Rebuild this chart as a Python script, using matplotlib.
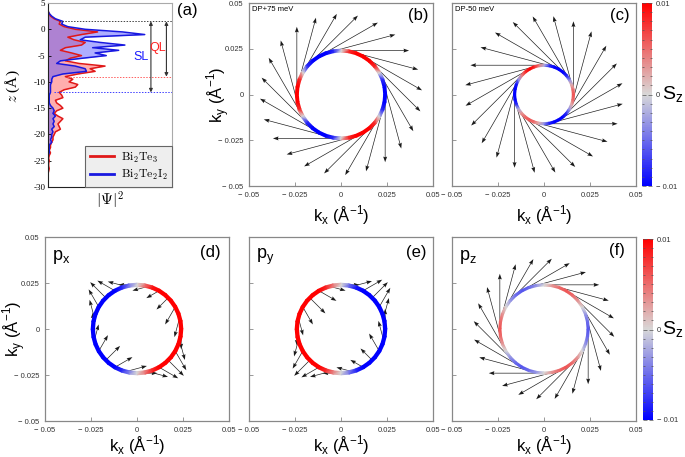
import numpy as np
import matplotlib
matplotlib.use('Agg')
import matplotlib.pyplot as plt
from matplotlib.colors import LinearSegmentedColormap, Normalize
from matplotlib.tri import Triangulation
from matplotlib.cm import ScalarMappable
from matplotlib.ticker import MultipleLocator

plt.rcParams['font.family'] = ['Liberation Sans', 'DejaVu Sans']

# ---------------- panel (a): |Psi|^2 profile along z ----------------
z_grid = np.arange(4.0, -30.25, -0.5)
psi_bi2te3 = [0.0, 0.0, 0.01, 0.02, 0.05, 0.10, 0.09, 0.13, 0.22,
              0.40, 0.27, 0.16, 0.21, 0.30, 0.27, 0.14, 0.10, 0.19, 0.27,
              0.18, 0.14, 0.25, 0.46, 0.34, 0.38, 0.24, 0.14, 0.20, 0.17,
              0.24, 0.22, 0.13, 0.09, 0.11, 0.12, 0.06, 0.07, 0.10, 0.12,
              0.07, 0.05, 0.08, 0.12, 0.10, 0.08, 0.09, 0.10, 0.06, 0.05,
              0.04, 0.04, 0.03, 0.02, 0.02, 0.01, 0.02, 0.01, 0.005, 0.01,
              0.005, 0.005, 0.01, 0.005, 0.0, 0.0, 0.0, 0.0, 0.0, 0.0]
psi_bi2te2i2 = [0.0, 0.0, 0.01, 0.03, 0.06, 0.12, 0.11, 0.16, 0.30,
                0.60, 0.78, 0.30, 0.26, 0.42, 0.62, 0.36, 0.57, 0.38, 0.47,
                0.28, 0.10, 0.07, 0.22, 0.30, 0.31, 0.12, 0.04, 0.03, 0.03,
                0.02, 0.02, 0.02, 0.02, 0.01, 0.01, 0.01, 0.01, 0.02, 0.04,
                0.05, 0.04, 0.06, 0.04, 0.05, 0.04, 0.05, 0.03, 0.04, 0.03,
                0.03, 0.02, 0.03, 0.01, 0.01, 0.01, 0.01, 0.0, 0.0, 0.0,
                0.0, 0.0, 0.0, 0.0, 0.0, 0.0, 0.0, 0.0, 0.0, 0.0]
z_top, z_ql, z_sl = 1.5, -9.0, -12.0

# ---------------- panels (b)-(f): spin textures ----------------
sz_theta = np.arange(0, 360, 10)          # angle (deg) on Fermi contour
arrow_theta = np.arange(0, 360, 15)       # angle (deg) of arrow origins

kf_b, kf_c, kf_d, kf_e, kf_f = 0.024, 0.016, 0.024, 0.024, 0.024

sz_b = [-0.01, -0.01, -0.008, 0.0, 0.008, 0.01, 0.01, 0.01, 0.008, 0.0, -0.008, -0.01,
        -0.01, -0.01, -0.008, 0.0, 0.008, 0.01, 0.01, 0.01, 0.008, 0.0, -0.008, -0.01,
        -0.01, -0.01, -0.008, 0.0, 0.008, 0.01, 0.01, 0.01, 0.008, 0.0, -0.008, -0.01]
sz_c = [0.006, 0.005, 0.002, -0.003, -0.008, -0.011, -0.012, -0.011, -0.008, -0.002, 0.004, 0.008,
        0.010, 0.008, 0.004, -0.003, -0.009, -0.012, -0.013, -0.012, -0.008, -0.002, 0.003, 0.005,
        0.006, 0.005, 0.002, -0.003, -0.008, -0.011, -0.012, -0.011, -0.008, -0.003, 0.002, 0.005]
sz_d = [0.01, 0.01, 0.01, 0.01, 0.01, 0.01, 0.01, 0.009, 0.005, 0.0, -0.004, -0.008,
        -0.01, -0.01, -0.01, -0.01, -0.01, -0.01, -0.01, -0.01, -0.01, -0.01, -0.01, -0.01,
        -0.01, -0.008, -0.004, 0.0, 0.004, 0.008, 0.01, 0.01, 0.01, 0.01, 0.01, 0.01]
sz_e = [-0.01, -0.01, -0.01, -0.01, -0.01, -0.01, -0.01, -0.009, -0.005, 0.0, 0.004, 0.008,
        0.01, 0.01, 0.01, 0.01, 0.01, 0.01, 0.01, 0.01, 0.01, 0.01, 0.01, 0.01,
        0.01, 0.008, 0.004, 0.0, -0.004, -0.008, -0.01, -0.01, -0.01, -0.01, -0.01, -0.01]
sz_f = [-0.006, -0.005, -0.003, 0.0, 0.003, 0.005, 0.006, 0.005, 0.003, 0.0, -0.003, -0.005,
        -0.006, -0.005, -0.003, 0.0, 0.003, 0.005, 0.006, 0.005, 0.003, 0.0, -0.003, -0.005,
        -0.006, -0.005, -0.003, 0.0, 0.003, 0.005, 0.006, 0.005, 0.003, 0.0, -0.003, -0.005]

# in-plane spin direction (deg) and length at each arrow origin
phi_b = [-90, -75, -60, -45, -30, -15, 0, 15, 30, 45, 60, 75,
         90, 105, 120, 135, 150, 165, 180, 195, 210, 225, 240, 255]
phi_c = [90, 105, 120, 135, 150, 165, 180, 195, 210, 225, 240, 255,
         270, 285, 300, 315, 330, 345, 0, 15, 30, 45, 60, 75]
phi_d = [-90, -105, -120, -135, -150, -165, 180, 165, 150, 135, 120, 105,
         90, 75, 60, 45, 30, 15, 0, -15, -30, -45, -60, -75]
phi_e = [90, 75, 60, 45, 30, 15, 0, -15, -30, -45, -60, -75,
         -90, -105, -120, -135, -150, -165, 180, 165, 150, 135, 120, 105]
phi_f = phi_b
len_b = [0.037, 0.037, 0.037, 0.037, 0.037, 0.037, 0.037, 0.037, 0.037, 0.037, 0.037, 0.037,
         0.037, 0.037, 0.037, 0.037, 0.037, 0.037, 0.037, 0.037, 0.037, 0.037, 0.037, 0.037]
len_c = [0.040, 0.040, 0.040, 0.040, 0.040, 0.040, 0.040, 0.040, 0.040, 0.040, 0.040, 0.040,
         0.040, 0.040, 0.040, 0.040, 0.040, 0.040, 0.040, 0.040, 0.040, 0.040, 0.040, 0.040]
len_d = [0.011, 0.011, 0.011, 0.009, 0.008, 0.009, 0.010, 0.010, 0.011, 0.012, 0.011, 0.010,
         0.009, 0.009, 0.010, 0.011, 0.011, 0.012, 0.011, 0.011, 0.012, 0.012, 0.012, 0.011]
len_e = [0.011, 0.011, 0.012, 0.012, 0.012, 0.011, 0.010, 0.009, 0.011, 0.012, 0.011, 0.010,
         0.009, 0.009, 0.011, 0.012, 0.011, 0.011, 0.010, 0.009, 0.008, 0.009, 0.011, 0.011]
len_f = [0.030, 0.030, 0.030, 0.030, 0.030, 0.030, 0.030, 0.030, 0.030, 0.030, 0.030, 0.030,
         0.030, 0.030, 0.030, 0.030, 0.030, 0.030, 0.030, 0.030, 0.030, 0.030, 0.030, 0.030]

k_ticks = [-0.05, -0.025, 0, 0.025, 0.05]
k_tick_labels = ['\u2212 0.05', '\u2212 0.025', '0', '0.025', '0.05']

cmap = LinearSegmentedColormap.from_list('sz', ['#0000ff', '#d8d8d8', '#ff0000'])
norm = Normalize(-0.01, 0.01)

fig = plt.figure(figsize=(6.85, 4.57), dpi=100)
W, H = 685.0, 457.0


def box(x0, y0, w, h):
    return [x0 / W, 1 - (y0 + h) / H, w / W, h / H]


ax_a = fig.add_axes(box(48, 3, 124, 184))
ax_b = fig.add_axes(box(249, 3, 184, 183))
ax_c = fig.add_axes(box(452, 3, 184, 183))
cax1 = fig.add_axes(box(642, 3, 10, 183))
ax_d = fig.add_axes(box(45, 237, 184, 184))
ax_e = fig.add_axes(box(249, 237, 184, 184))
ax_f = fig.add_axes(box(452, 237, 184, 184))
cax2 = fig.add_axes(box(643, 239, 10, 181))

# ---- panel (a)
ax_a.fill_betweenx(z_grid, 0, psi_bi2te3, color='#ff4d4d', alpha=0.45, lw=0)
ax_a.fill_betweenx(z_grid, 0, psi_bi2te2i2, color='#4d4dff', alpha=0.45, lw=0)
l1, = ax_a.plot(psi_bi2te3, z_grid, color='#e01818', lw=1.1)
l2, = ax_a.plot(psi_bi2te2i2, z_grid, color='#1818e0', lw=1.1)
ax_a.plot([0.09, 1.0], [z_top, z_top], ls=(0, (1.5, 1.5)), color='#444', lw=0.7)
ax_a.plot([0.15, 1.0], [z_ql, z_ql], ls=(0, (1.5, 1.5)), color='#ff6060', lw=0.7)
ax_a.plot([0.05, 1.0], [z_sl, z_sl], ls=(0, (1.5, 1.5)), color='#4040ff', lw=0.7)
arr = dict(arrowstyle='<|-|>', color='#333', lw=0.8, mutation_scale=5, shrinkA=0, shrinkB=0)
ax_a.annotate('', xy=(0.83, z_sl), xytext=(0.83, z_top), arrowprops=arr)
ax_a.annotate('', xy=(0.955, z_ql), xytext=(0.955, z_top), arrowprops=arr)
ax_a.text(0.75, -5.2, 'SL', color='#1a1aff', fontsize=9, ha='center', va='center')
ax_a.text(0.885, -3.6, 'QL', color='#ff2020', fontsize=9, ha='center', va='center')
ax_a.set_xlim(0, 1)
ax_a.set_ylim(-30, 5)
ax_a.set_yticks([5, 0, -5, -10, -15, -20, -25, -30])
ax_a.set_yticklabels(['5', '0', '-5', '-10', '-15', '-20', '-25', '-30'],
                     family='Liberation Serif', fontsize=6.5)
ax_a.set_xticks([])
ax_a.tick_params(axis='y', direction='in', length=2, width=0.6, pad=2)
for s in ['top', 'right']:
    ax_a.spines[s].set_color('#aaa')
for s in ['left', 'bottom']:
    ax_a.spines[s].set_color('#222')
ax_a.set_xlabel(r'$|\Psi|^2$', fontsize=11, labelpad=2, math_fontfamily='cm')
ax_a.set_ylabel(r'$z$ (Å)', fontsize=11, family='Liberation Serif', math_fontfamily='cm')
ax_a.yaxis.set_label_coords(-0.21, 0.55)
leg = ax_a.legend([l1, l2], [r'$\mathrm{Bi_2Te_3}$', r'$\mathrm{Bi_2Te_2I_2}$'],
                  loc='lower right', borderaxespad=0, fancybox=False, framealpha=1,
                  facecolor='#eeeeee', edgecolor='#666', handlelength=2.0,
                  prop={'size': 8.5, 'math_fontfamily': 'cm'}, borderpad=0.4,
                  labelspacing=0.3, handletextpad=0.6)
leg.get_frame().set_linewidth(0.8)
for h in leg.legend_handles:
    h.set_linewidth(2)
fig.text(187.5 / W, 1 - 11 / H, '(a)', fontsize=12, ha='center', va='center')


# ---- spin texture panels
def fermi_ring(ax, kf, sz, half_w):
    th = np.deg2rad(sz_theta)
    n = len(th)
    x = np.concatenate([(kf - half_w) * np.cos(th), (kf + half_w) * np.cos(th)])
    y = np.concatenate([(kf - half_w) * np.sin(th), (kf + half_w) * np.sin(th)])
    tris = []
    for i in range(n):
        j = (i + 1) % n
        tris.append([i, j, n + i])
        tris.append([j, n + j, n + i])
    tri = Triangulation(x, y, tris)
    vals = np.clip(np.concatenate([sz, sz]), -0.01, 0.01)
    ax.tripcolor(tri, vals, shading='gouraud', cmap=cmap, norm=norm, zorder=3)


def spin_arrows(ax, kf, phi, length):
    th = np.deg2rad(arrow_theta)
    ph = np.deg2rad(phi)
    L = np.asarray(length)
    ax.quiver(kf * np.cos(th), kf * np.sin(th), L * np.cos(ph), L * np.sin(ph),
              angles='xy', scale_units='xy', scale=1, width=0.0036,
              headwidth=6, headlength=8.5, headaxislength=7.5, color='#1a1a1a', zorder=2)


def style_k(ax, show_y, xlab_y):
    ax.set_xlim(-0.05, 0.05)
    ax.set_ylim(-0.05, 0.05)
    ax.set_xticks(k_ticks)
    ax.set_xticklabels(k_tick_labels)
    ax.set_yticks(k_ticks)
    ax.set_yticklabels(k_tick_labels)
    ax.tick_params(direction='in', length=3, width=0.6, color='#888',
                   labelsize=5.5, labelcolor='#333', pad=4)
    for s in ax.spines.values():
        s.set_color('#888')
        s.set_linewidth(0.9)
    ax.set_xlabel(r'k$_\mathregular{x}$ (Å$^\mathregular{-1}$)', fontsize=12, va='center')
    ax.xaxis.set_label_coords(0.5, xlab_y)
    if show_y:
        ax.set_ylabel(r'k$_\mathregular{y}$ (Å$^\mathregular{-1}$)', fontsize=12, va='center')
        ax.yaxis.set_label_coords(-0.168, 0.5)
    else:
        ax.tick_params(labelleft=False)


panels = [(ax_b, kf_b, sz_b, phi_b, len_b, 0.0008),
          (ax_c, kf_c, sz_c, phi_c, len_c, 0.0006),
          (ax_d, kf_d, sz_d, phi_d, len_d, 0.0009),
          (ax_e, kf_e, sz_e, phi_e, len_e, 0.0009),
          (ax_f, kf_f, sz_f, phi_f, len_f, 0.0006)]
for ax, kf, sz, phi, ln, hw in panels:
    fermi_ring(ax, kf, sz, hw)
    spin_arrows(ax, kf, phi, ln)

style_k(ax_b, True, -0.16)
style_k(ax_c, False, -0.16)
style_k(ax_d, True, -0.13)
style_k(ax_e, False, -0.13)
style_k(ax_f, False, -0.13)

ax_b.text(0.015, 0.967, 'DP+75 meV', transform=ax_b.transAxes, fontsize=5.5, va='center')
ax_c.text(0.015, 0.967, 'DP-50 meV', transform=ax_c.transAxes, fontsize=5.5, va='center')
for ax, lab, x, y in [(ax_b, '(b)', 0.918, 0.934), (ax_c, '(c)', 0.913, 0.934),
                      (ax_d, '(d)', 0.90, 0.915), (ax_e, '(e)', 0.909, 0.915),
                      (ax_f, '(f)', 0.898, 0.924)]:
    ax.text(x, y, lab, transform=ax.transAxes, fontsize=12, ha='center', va='center')
for ax, lab in [(ax_d, 'p$_\\mathregular{x}$'), (ax_e, 'p$_\\mathregular{y}$'),
                (ax_f, 'p$_\\mathregular{z}$')]:
    ax.text(0.04, 0.89, lab, transform=ax.transAxes, fontsize=13, va='center')

# ---- colorbars
for cax, ycen in [(cax1, 95), (cax2, 330)]:
    cb = fig.colorbar(ScalarMappable(norm=norm, cmap=cmap), cax=cax)
    cb.outline.set_linewidth(0)
    cb.set_ticks([-0.01, 0, 0.01])
    cb.set_ticklabels(['\u2212 0.01', '0', '0.01'])
    cax.yaxis.set_minor_locator(MultipleLocator(0.001))
    cax.tick_params(which='both', direction='in', left=True, right=True,
                    color='#555', width=0.5, labelsize=5.5, labelcolor='#333', pad=3)
    cax.tick_params(which='major', length=3)
    cax.tick_params(which='minor', length=1.5)
    fig.text(662 / W, 1 - ycen / H, 'S$_\\mathregular{z}$', fontsize=14, ha='left', va='center')

fig.savefig('out.png', dpi=100)
